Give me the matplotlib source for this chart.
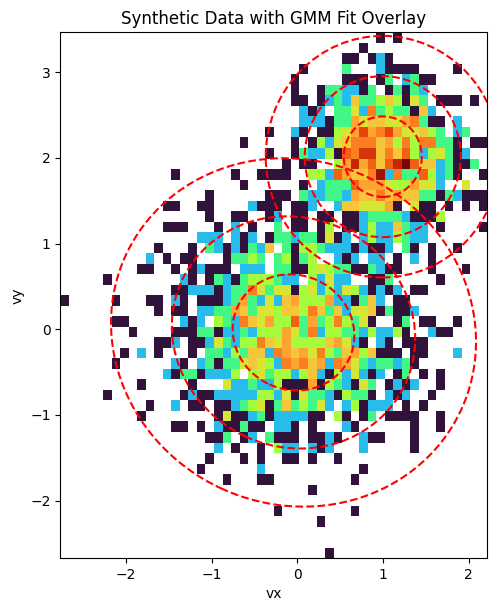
import numpy as np
import matplotlib
matplotlib.use('Agg')
import matplotlib.pyplot as plt
from matplotlib.colors import LogNorm
from matplotlib.patches import Ellipse

# histogram range
x_range = [-2.764, 2.216]
y_range = [3.467, -2.673]  # rows below run from the top down

# counts per bin, top row first
counts = [
    [0,0,0,0,0,0,0,0,0,0, 0,0,0,0,0,0,0,0,0,0, 0,0,0,0,0,0,0,0,0,0, 0,0,0,0,0,0,0,1,0,1, 0,0,0,0,0,0,0,0,0,0],
    [0,0,0,0,0,0,0,0,0,0, 0,0,0,0,0,0,0,0,0,0, 0,0,0,0,0,0,0,0,0,0, 0,0,0,0,0,1,0,0,0,0, 0,0,0,0,0,0,0,0,0,0],
    [0,0,0,0,0,0,0,0,0,0, 0,0,0,0,0,0,0,0,0,0, 0,0,0,0,0,0,0,0,0,0, 0,0,0,1,1,0,1,2,1,0, 0,0,0,0,0,0,0,0,0,0],
    [0,0,0,0,0,0,0,0,0,0, 0,0,0,0,0,0,0,0,0,0, 0,0,0,0,0,0,0,0,1,0, 0,0,0,3,0,0,0,2,1,1, 1,1,0,0,0,0,1,0,0,0],
    [0,0,0,0,0,0,0,0,0,0, 0,0,0,0,0,0,0,0,0,0, 0,0,0,0,0,0,0,1,0,0, 0,0,0,1,1,1,0,1,3,0, 2,3,1,1,0,0,0,0,0,0],
    [0,0,0,0,0,0,0,0,0,0, 0,0,0,0,0,0,0,0,0,0, 0,0,0,0,0,0,0,1,0,0, 1,3,3,2,2,1,3,0,1,3, 1,3,2,0,0,0,0,0,0,0],
    [0,0,0,0,0,0,0,0,0,0, 0,0,0,0,0,0,0,0,0,0, 0,0,0,0,0,0,0,1,1,0, 1,2,3,2,6,3,3,4,6,4, 1,5,3,0,1,1,1,0,1,0],
    [0,0,0,0,0,0,0,0,0,0, 0,0,0,0,0,0,0,0,0,0, 0,0,0,0,0,0,0,0,2,1, 2,0,3,3,5,2,8,3,4,3, 3,1,6,2,0,0,0,0,0,0],
    [0,0,0,0,0,0,0,0,0,0, 0,0,0,0,0,0,0,0,0,0, 0,0,0,0,0,0,0,0,2,2, 2,1,3,3,7,5,6,6,5,5, 7,8,3,1,1,0,2,0,0,0],
    [0,0,0,0,0,0,0,0,0,0, 0,0,0,0,0,0,0,0,0,0, 0,0,0,0,1,0,0,2,1,0, 1,1,4,5,7,10,7,8,10,7, 5,5,6,4,3,0,2,3,0,0],
    [0,0,0,0,0,0,0,0,0,0, 0,0,0,0,0,0,0,0,0,0, 0,1,0,0,0,0,0,1,0,1, 4,2,5,6,8,8,8,6,7,4, 8,4,8,8,3,3,1,0,1,1],
    [0,0,0,0,0,0,0,0,0,0, 0,0,0,0,0,0,0,0,0,0, 0,0,0,0,1,0,0,1,3,2, 2,4,1,9,8,11,11,6,8,6, 9,4,2,4,5,3,1,2,0,0],
    [0,0,0,0,0,0,0,0,0,0, 0,0,0,0,0,0,0,0,0,0, 0,0,0,0,0,0,1,0,1,1, 0,0,4,7,12,7,9,6,9,12, 16,9,6,6,2,3,1,1,3,0],
    [0,0,0,0,0,0,0,0,0,0, 0,0,0,1,0,0,0,0,0,0, 1,0,0,1,1,1,1,0,0,4, 4,2,9,7,6,6,8,14,2,8, 3,3,9,4,2,3,1,0,0,1],
    [0,0,0,0,0,0,0,0,0,0, 0,0,0,0,0,0,0,0,0,0, 0,1,0,0,0,0,0,0,1,0, 2,3,3,3,9,7,7,7,5,4, 4,7,5,5,2,0,0,5,0,0],
    [0,0,0,0,0,0,0,0,0,0, 0,0,0,0,0,0,0,1,0,0, 0,0,0,0,1,1,1,0,3,2, 2,3,3,2,7,6,6,8,6,7, 6,6,3,3,1,3,2,1,1,1],
    [0,0,0,0,0,0,0,0,0,0, 0,0,1,1,0,0,1,1,0,0, 0,0,2,1,1,1,0,1,1,2, 0,0,2,6,6,5,5,5,7,1, 0,5,1,1,0,1,0,1,0,1],
    [0,0,0,0,0,0,0,0,0,0, 0,0,0,0,0,0,0,1,0,0, 1,1,0,0,1,2,0,1,1,0, 1,1,0,1,1,2,3,3,3,3, 2,1,1,1,4,0,0,0,0,0],
    [0,0,0,0,0,0,0,0,0,0, 0,0,1,1,1,0,0,0,1,0, 2,0,1,0,0,3,0,1,1,0, 1,4,0,1,1,2,4,2,2,6, 3,2,2,0,1,0,0,0,0,1],
    [0,0,0,0,0,0,0,0,0,0, 0,0,0,0,0,0,2,2,2,0, 2,1,2,0,1,3,3,2,3,3, 1,5,1,2,0,2,4,2,2,4, 3,2,2,0,0,0,0,0,0,0],
    [0,0,0,0,0,0,0,0,0,0, 0,1,0,0,0,1,0,3,2,1, 2,1,3,2,6,0,3,1,4,4, 3,2,2,2,1,2,1,1,2,0, 3,1,0,1,0,0,1,0,0,0],
    [0,0,0,0,0,0,0,0,0,0, 2,0,1,0,1,1,0,0,0,1, 3,3,4,3,0,3,4,1,3,4, 0,0,2,1,2,0,2,2,0,1, 0,2,0,1,0,0,0,0,0,0],
    [0,0,0,0,0,0,0,0,0,1, 1,0,0,1,0,1,2,1,1,1, 0,2,2,2,0,3,3,1,1,4, 5,4,3,3,1,1,3,2,1,1, 0,0,0,1,0,0,0,1,0,0],
    [0,0,0,0,0,1,0,0,0,0, 0,0,0,0,2,1,0,1,3,2, 1,3,4,4,4,3,2,2,0,4, 2,5,2,2,0,0,1,1,3,0, 0,0,0,0,1,0,0,0,0,0],
    [0,0,0,0,0,0,0,0,0,0, 0,0,0,1,1,2,2,2,1,2, 3,3,8,5,3,5,5,1,4,5, 2,4,2,5,4,2,1,2,1,2, 0,1,1,0,0,0,0,0,0,0],
    [1,0,0,0,0,0,1,0,0,0, 1,1,0,2,1,0,1,1,1,2, 3,7,3,2,5,2,6,7,4,4, 4,7,2,2,1,3,6,2,0,1, 1,0,0,0,0,0,0,0,0,0],
    [0,0,0,0,0,0,0,0,0,0, 0,1,0,1,1,0,2,2,3,3, 7,6,3,5,5,4,6,6,4,8, 6,3,6,2,5,5,6,1,3,1, 1,2,0,0,0,0,0,0,0,0],
    [0,0,0,0,0,0,1,1,0,0, 0,0,0,0,2,1,2,0,4,3, 2,8,6,5,7,4,4,9,3,7, 3,4,8,4,3,5,1,0,0,1, 3,0,1,1,0,0,1,0,0,0],
    [0,0,0,0,0,0,0,0,1,0, 0,0,0,1,1,1,3,3,1,2, 2,3,2,4,4,4,7,5,3,8, 2,4,4,3,3,2,4,2,2,4, 1,0,0,2,1,1,0,0,0,0],
    [0,0,0,0,0,0,0,0,0,0, 0,1,1,2,0,1,1,2,5,3, 2,4,4,8,6,5,7,4,4,4, 4,6,7,5,2,1,0,2,1,0, 1,1,1,0,0,0,0,0,0,0],
    [0,0,0,0,0,0,0,1,0,2, 0,1,0,0,0,1,0,3,3,2, 4,3,6,6,2,8,7,6,7,5, 8,4,3,6,7,4,6,1,1,1, 0,1,1,0,0,0,2,0,0,0],
    [0,0,0,0,0,0,1,0,0,0, 0,0,0,2,1,0,2,3,1,3, 3,5,6,5,4,2,8,7,8,6, 7,2,8,7,5,3,2,3,3,2, 3,1,0,0,0,0,0,0,0,0],
    [0,0,0,0,0,0,0,0,0,0, 0,0,2,1,3,3,1,2,2,2, 4,0,4,5,3,4,4,2,4,6, 2,1,4,2,5,2,1,2,0,1, 3,0,1,0,1,0,0,0,0,0],
    [0,0,0,0,0,0,0,0,0,1, 0,0,0,0,0,1,0,0,0,5, 2,2,3,2,2,4,1,1,1,7, 1,4,3,2,1,5,3,0,1,2, 1,2,0,0,1,0,0,0,0,0],
    [0,0,0,0,0,1,0,0,0,0, 0,0,0,0,1,2,1,1,2,2, 2,2,2,4,4,2,5,1,5,3, 3,2,1,4,3,3,1,0,2,1, 2,0,0,1,0,0,0,0,0,0],
    [0,0,0,0,0,0,0,0,0,0, 1,0,0,2,0,1,1,0,1,1, 2,3,4,5,1,3,6,3,4,3, 5,2,0,2,4,1,2,2,2,0, 1,0,1,0,0,0,0,0,0,0],
    [0,0,0,0,0,0,0,0,0,1, 0,0,0,0,0,0,0,0,1,5, 1,1,2,3,1,2,2,2,2,1, 1,0,4,1,0,1,3,0,1,1, 1,1,0,0,1,0,0,0,0,0],
    [0,0,0,0,0,0,0,0,0,0, 0,0,0,1,1,0,1,0,2,1, 1,3,1,1,0,2,2,1,0,1, 0,0,0,2,1,0,0,0,0,0, 0,1,0,0,1,0,0,0,0,0],
    [0,0,0,0,0,0,0,0,0,0, 0,0,0,0,0,0,0,1,1,3, 0,1,2,0,3,1,1,1,0,1, 1,2,1,0,0,2,1,1,0,0, 0,1,0,0,0,0,0,0,0,0],
    [0,0,0,0,0,0,0,0,0,0, 0,0,0,0,0,0,0,0,2,0, 1,0,0,1,0,4,2,2,0,2, 1,2,0,0,0,2,0,0,0,0, 0,1,0,0,0,0,0,0,0,0],
    [0,0,0,0,0,0,0,0,0,0, 0,0,0,0,0,0,0,1,0,0, 0,1,0,1,0,0,1,1,0,1, 0,0,1,0,0,0,0,0,0,0, 0,0,0,0,0,0,0,0,0,0],
    [0,0,0,0,0,0,0,0,0,0, 0,0,0,0,0,0,1,0,0,0, 0,0,0,2,0,0,0,0,0,0, 0,0,0,0,0,1,0,0,0,0, 0,0,0,0,0,0,0,0,0,0],
    [0,0,0,0,0,0,0,0,0,0, 0,0,0,0,0,0,0,0,0,1, 0,0,0,1,1,0,0,0,0,0, 0,0,0,0,1,0,0,0,0,0, 0,0,0,0,0,0,0,0,0,0],
    [0,0,0,0,0,0,0,0,0,0, 0,0,0,0,0,0,0,0,0,0, 0,0,0,0,0,0,0,0,0,1, 0,0,0,0,0,0,0,0,0,0, 0,0,0,0,0,0,0,0,0,0],
    [0,0,0,0,0,0,0,0,0,0, 0,0,0,0,0,0,0,0,0,0, 0,0,0,0,0,0,0,0,0,0, 0,0,0,0,0,0,0,0,0,0, 0,0,0,0,0,0,0,0,0,0],
    [0,0,0,0,0,0,0,0,0,0, 0,0,0,0,0,0,0,0,0,0, 0,0,0,0,0,1,0,0,0,0, 0,0,0,0,1,0,0,0,0,0, 0,0,0,0,0,0,0,0,0,0],
    [0,0,0,0,0,0,0,0,0,0, 0,0,0,0,0,0,0,0,0,0, 0,0,0,0,0,0,0,0,0,0, 1,0,0,0,0,0,0,0,0,0, 0,0,0,0,0,0,0,0,0,0],
    [0,0,0,0,0,0,0,0,0,0, 0,0,0,0,0,0,0,0,0,0, 0,0,0,0,0,0,0,0,0,0, 0,0,0,0,0,0,0,0,0,0, 0,0,0,0,0,0,0,0,0,0],
    [0,0,0,0,0,0,0,0,0,0, 0,0,0,0,0,0,0,0,0,0, 0,0,0,0,0,0,0,0,0,0, 0,0,0,0,0,0,0,0,0,0, 0,0,0,0,0,0,0,0,0,0],
    [0,0,0,0,0,0,0,0,0,0, 0,0,0,0,0,0,0,0,0,0, 0,0,0,0,0,0,0,0,0,0, 0,1,0,0,0,0,0,0,0,0, 0,0,0,0,0,0,0,0,0,0],
]

# GMM components: centre, 1-sigma axes, tilt in degrees
gmm_means = [(-0.044, -0.037), (0.997, 2.015)]
gmm_sigmas = [(0.718, 0.669), (0.455, 0.47)]
gmm_angles = [-25, 0]
n_sigma = [1, 2, 3]

counts = np.array(counts, dtype=float)
xedges = np.linspace(x_range[0], x_range[1], counts.shape[1] + 1)
yedges = np.linspace(y_range[0], y_range[1], counts.shape[0] + 1)

fig = plt.figure(figsize=(4.97, 6.11), dpi=100)
ax = fig.add_axes([60.3 / 497, 1 - 558.2 / 611, 427 / 497, 525.9 / 611])

ax.pcolormesh(xedges, yedges, np.ma.masked_equal(counts, 0), cmap='turbo',
              norm=LogNorm(vmin=1, vmax=16), antialiased=False)

for mean, sig, angle in zip(gmm_means, gmm_sigmas, gmm_angles):
    for n in n_sigma:
        ax.add_patch(Ellipse(mean, 2 * n * sig[0], 2 * n * sig[1], angle=angle,
                             fill=False, edgecolor='red', linestyle='--', linewidth=1.5))

ax.set_xlim(x_range[0], x_range[1])
ax.set_ylim(y_range[1], y_range[0])
ax.set_xticks([-2, -1, 0, 1, 2])
ax.set_yticks([-2, -1, 0, 1, 2, 3])
ax.set_xlabel('vx')
ax.set_ylabel('vy')
ax.set_title('Synthetic Data with GMM Fit Overlay')

fig.savefig('out.png', dpi=100)
